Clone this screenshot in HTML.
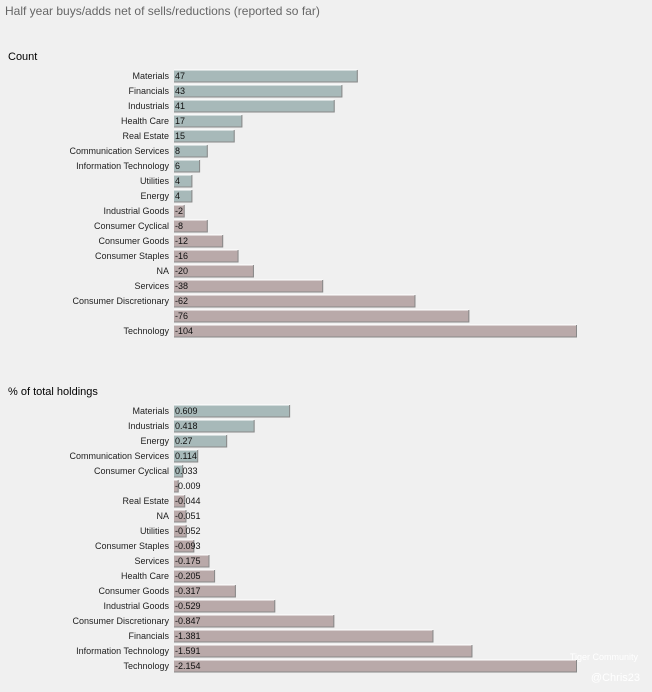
<!DOCTYPE html>
<html><head><meta charset="utf-8"><style>
body{margin:0;background:#f0f0f0;}
svg{display:block;font-family:"Liberation Sans",Arial,sans-serif;}
</style></head><body>
<svg id="c" width="652" height="692">
<text x="5" y="15" font-size="12" fill="#666">Half year buys/adds net of sells/reductions (reported so far)</text>
<text x="8" y="60" font-size="11" fill="#000">Count</text>
<text x="8" y="395" font-size="11" fill="#000">% of total holdings</text>
<text x="638" y="660" font-size="9" fill="#fff" text-anchor="end">Tiger Community</text>
<text x="640" y="681" font-size="11" fill="#fff" text-anchor="end">@Chris23</text>
<g id="g1"></g><g id="g2"></g>
</svg>
<script>
const countCats=["Materials","Financials","Industrials","Health Care","Real Estate","Communication Services","Information Technology","Utilities","Energy","Industrial Goods","Consumer Cyclical","Consumer Goods","Consumer Staples","NA","Services","Consumer Discretionary","","Technology"];
const countVals=[47,43,41,17,15,8,6,4,4,-2,-8,-12,-16,-20,-38,-62,-76,-104];
const countLabels=["47","43","41","17","15","8","6","4","4","-2","-8","-12","-16","-20","-38","-62","-76","-104"];
const pctCats=["Materials","Industrials","Energy","Communication Services","Consumer Cyclical","","Real Estate","NA","Utilities","Consumer Staples","Services","Health Care","Consumer Goods","Industrial Goods","Consumer Discretionary","Financials","Information Technology","Technology"];
const pctVals=[0.609,0.418,0.27,0.114,0.033,-0.009,-0.044,-0.051,-0.052,-0.093,-0.175,-0.205,-0.317,-0.529,-0.847,-1.381,-1.591,-2.154];
const pctLabels=["0.609","0.418","0.27","0.114","0.033","-0.009","-0.044","-0.051","-0.052","-0.093","-0.175","-0.205","-0.317","-0.529","-0.847","-1.381","-1.591","-2.154"];
const NS="http://www.w3.org/2000/svg";
function draw(gid,cats,vals,labels,y0,name){
  const g=document.getElementById(gid);
  const maxAbs=Math.max(...vals.map(Math.abs));
  const x0=174, W=400;
  const xs=v=>3+Math.abs(v)/maxAbs*W;
  cats.forEach((c,i)=>{
    const yc=y0+i*15;
    const t=document.createElementNS(NS,"text");
    
    
    t.setAttribute("x",169);t.setAttribute("y",yc+3);t.setAttribute("font-size","9");
    t.setAttribute("text-anchor","end");t.setAttribute("fill","#222");t.textContent=c;g.appendChild(t);
    const w=xs(vals[i]);
    const r=document.createElementNS(NS,"rect");
    
    
    r.setAttribute("x",x0);r.setAttribute("y",yc-6.5);r.setAttribute("width",w);r.setAttribute("height",13);
    r.setAttribute("fill",vals[i]>=0?"#a7b9b9":"#b9a9a9");g.appendChild(r);
    const hl=document.createElementNS(NS,"path");
    
    
    hl.setAttribute("d",`M${x0} ${yc-6}H${x0+w}`);hl.setAttribute("stroke","#fff");hl.setAttribute("stroke-width","1");g.appendChild(hl);
    const sh=document.createElementNS(NS,"path");
    
    
    sh.setAttribute("d",`M${x0} ${yc+6}H${x0+w-0.5}V${yc-6}`);sh.setAttribute("stroke","#888");sh.setAttribute("fill","none");sh.setAttribute("stroke-width","1");g.appendChild(sh);
    const vt=document.createElementNS(NS,"text");
    
    
    vt.setAttribute("x",x0+1);vt.setAttribute("y",yc+3);vt.setAttribute("font-size","9");vt.setAttribute("fill","#111");
    vt.textContent=labels[i];g.appendChild(vt);
  });
}
draw("g1",countCats,countVals,countLabels,76,"count");
draw("g2",pctCats,pctVals,pctLabels,411,"percent");
</script>
</body></html>
